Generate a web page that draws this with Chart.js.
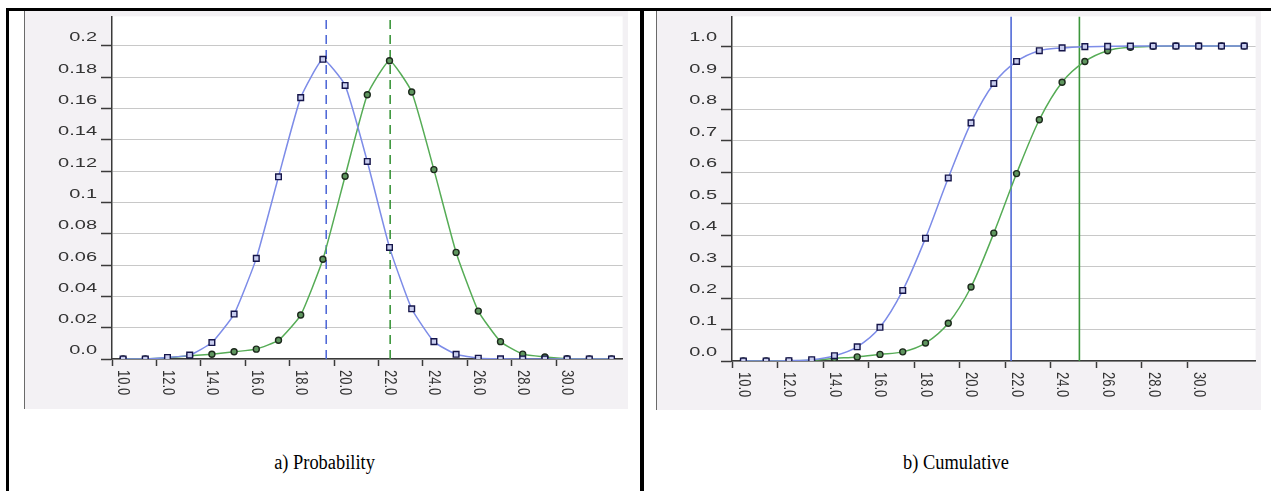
<!DOCTYPE html>
<html>
<head>
<meta charset="utf-8">
<script src="https://cdn.jsdelivr.net/npm/chart.js@4/dist/chart.umd.min.js"></script>
<style>
body { margin: 0; width: 1271px; height: 491px; background: #fff; position: relative; overflow: hidden; }
.rule { position: absolute; background: #000; }
.panel { position: absolute; background: #f3f1f4; border-left: 1px solid #6a6a6a; }
.caption { position: absolute; top: 451px; font-family: "Liberation Serif", "Times New Roman", serif; font-size: 20px; text-align: center; color: #000; transform: scaleX(0.92); }
</style>
</head>
<body>
<div class="rule" style="left:6px;top:8px;width:1265px;height:3px"></div>
<div class="rule" style="left:6px;top:8px;width:3px;height:483px"></div>
<div class="rule" style="left:640px;top:8px;width:4px;height:483px"></div>
<div class="panel" style="left:24px;top:11px;width:603px;height:398px"><canvas id="prob"></canvas></div>
<div class="panel" style="left:656px;top:11px;width:604px;height:399px"><canvas id="cum"></canvas></div>
<div class="caption" style="left:9px;width:631px">a) Probability</div>
<div class="caption" style="left:644px;width:624px">b) Cumulative</div>
<script>
// x categories (bin values)
const categories = ['10.0', '11.0', '12.0', '13.0', '14.0', '15.0', '16.0', '17.0', '18.0', '19.0', '20.0',
  '21.0', '22.0', '23.0', '24.0', '25.0', '26.0', '27.0', '28.0', '29.0', '30.0', '31.0', '32.0'];
const xTickLabels = ['10.0', '12.0', '14.0', '16.0', '18.0', '20.0', '22.0', '24.0', '26.0', '28.0', '30.0'];

// probability values read off panel a)
const probBlue = [0, 0, 0.001, 0.0025, 0.0105, 0.0287, 0.0643, 0.1164, 0.167, 0.1915, 0.1748,
  0.1262, 0.0713, 0.0321, 0.0111, 0.003, 0.0005, 0.0001, 0, 0, 0, 0, 0];
const probGreen = [0, 0, 0.0008, 0.002, 0.003, 0.0046, 0.0063, 0.012, 0.0281, 0.0637, 0.1168,
  0.1688, 0.1906, 0.1706, 0.121, 0.0681, 0.0306, 0.0111, 0.0031, 0.0013, 0.0002, 0, 0];

// cumulative values read off panel b)
const cumBlue = [0, 0, 0.001, 0.004, 0.0167, 0.045, 0.107, 0.224, 0.39, 0.581, 0.756,
  0.881, 0.951, 0.985, 0.994, 0.998, 0.999, 1, 1, 1, 1, 1, 1];
const cumGreen = [0, 0, 0.0005, 0.002, 0.008, 0.013, 0.021, 0.029, 0.057, 0.12, 0.235,
  0.406, 0.595, 0.766, 0.885, 0.951, 0.985, 0.996, 0.999, 1, 1, 1, 1];

// y tick labels
const probTickLabels = ['0.0', '0.02', '0.04', '0.06', '0.08', '0.1', '0.12', '0.14', '0.16', '0.18', '0.2'];
const cumTickLabels = ['0.0', '0.1', '0.2', '0.3', '0.4', '0.5', '0.6', '0.7', '0.8', '0.9', '1.0'];

// marker lines (means on a), 95% points on b))
const probMarks = [19.15, 22.03];
const cumMarks = [21.76, 24.76];

const BLUE_LINE = 'rgb(125,140,232)';
const GREEN_LINE = 'rgb(86,172,86)';
const AXIS = '#3a3a3a';

const whiteArea = {
  id: 'whiteArea',
  beforeDraw(chart) {
    const a = chart.chartArea;
    chart.ctx.save();
    chart.ctx.fillStyle = '#fff';
    chart.ctx.fillRect(a.left, a.top, a.right - a.left, a.bottom - a.top);
    chart.ctx.restore();
  }
};

// axis labels are drawn stretched / turned like in the source picture
const axisText = {
  id: 'axisText',
  afterDraw(chart) {
    const ctx = chart.ctx;
    const ys = chart.scales.y, xs = chart.scales.x;
    ctx.save();
    ctx.fillStyle = '#333';
    ctx.font = '12.5px "Liberation Sans", Arial, sans-serif';
    ctx.textAlign = 'right';
    ctx.textBaseline = 'middle';
    ys.ticks.forEach(t => {
      ctx.save();
      ctx.translate(ys.right - 15, ys.getPixelForValue(t.value) - 8);
      ctx.scale(1.6, 1);
      ctx.fillText(t.label, 0, 0);
      ctx.restore();
    });
    ctx.font = '13px "Liberation Sans", Arial, sans-serif';
    xs.ticks.forEach((t, i) => {
      if (!t.label) return;
      ctx.save();
      ctx.translate(xs.getPixelForTick(i), xs.top + 11);
      ctx.rotate(Math.PI / 2);
      ctx.scale(1, 1.3);
      ctx.textAlign = 'left';
      ctx.fillText(t.label, 0, 0);
      ctx.restore();
    });
    ctx.restore();
  }
};

function series(label, data, color, style, tension) {
  return {
    label: label,
    data: data,
    borderColor: color,
    borderWidth: 1.5,
    tension: tension === 'mono' ? 0 : tension,
    cubicInterpolationMode: tension === 'mono' ? 'monotone' : 'default',
    pointStyle: style,
    pointRadius: style === 'rect' ? 4 : 3,
    pointBorderWidth: 1.4,
    pointBorderColor: style === 'rect' ? '#15154a' : '#1d2a1d',
    pointBackgroundColor: style === 'rect' ? '#c8cdee' : '#5f965f',
    order: 1
  };
}

function markLine(xv, top, color, dash) {
  return {
    xAxisID: 'xv',
    data: [{x: xv, y: 0}, {x: xv, y: top}],
    borderColor: color,
    borderWidth: 1.6,
    borderDash: dash,
    pointRadius: 0,
    order: 2
  };
}

function makeChart(id, blue, green, marks, dash, yMax, step, tickLabels, yWidth, xHeight, tension) {
  return new Chart(document.getElementById(id), {
    type: 'line',
    data: {
      labels: categories,
      datasets: [
        series('blue', blue, BLUE_LINE, 'rect', tension),
        series('green', green, GREEN_LINE, 'circle', tension),
        markLine(marks[0], yMax, 'rgb(80,105,215)', dash),
        markLine(marks[1], yMax, 'rgb(60,150,60)', dash)
      ]
    },
    options: {
      responsive: true,
      maintainAspectRatio: false,
      animation: false,
      events: [],
      layout: { padding: 0 },
      plugins: { legend: { display: false }, tooltip: { enabled: false } },
      scales: {
        x: {
          type: 'category',
          offset: true,
          grid: {
            offset: true,
            drawOnChartArea: false,
            drawTicks: true,
            tickLength: 7,
            tickWidth: 1.5,
            tickColor: c => (c.index % 2 === 0 && c.index <= 20) ? AXIS : 'rgba(0,0,0,0)'
          },
          border: { display: true, color: AXIS, width: 1.5 },
          ticks: {
            display: false,
            callback: function (v) {
              const lab = this.getLabelForValue(v);
              return xTickLabels.includes(lab) ? lab : '';
            }
          },
          afterFit: s => { s.height = xHeight; }
        },
        xv: { type: 'linear', display: false, min: 9.5, max: 32.5 },
        y: {
          min: 0,
          max: yMax,
          grid: { color: '#c8c8c8', lineWidth: 1, drawTicks: true, tickLength: 11, tickColor: AXIS, tickWidth: 1.5 },
          border: { display: true, color: AXIS, width: 1.5 },
          ticks: {
            display: false,
            stepSize: step,
            includeBounds: false,
            callback: (v, i) => tickLabels[i]
          },
          afterFit: s => { s.width = yWidth; }
        }
      }
    },
    plugins: [whiteArea, axisText]
  });
}

makeChart('prob', probBlue, probGreen, probMarks, [9, 6], 0.2189, 0.02, probTickLabels, 87, 50, 0.15);
makeChart('cum', cumBlue, cumGreen, cumMarks, [], 1.094, 0.1, cumTickLabels, 75, 49, 'mono');
</script>
</body>
</html>
